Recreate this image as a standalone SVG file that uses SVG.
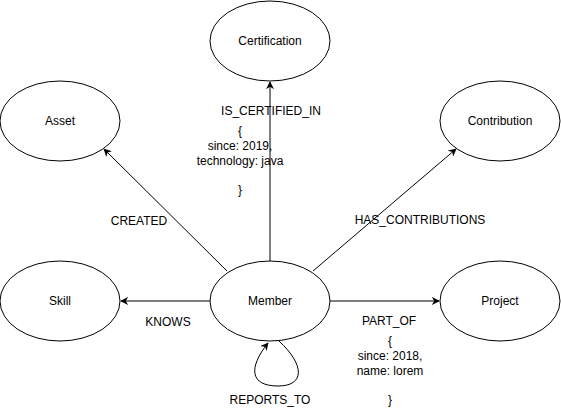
<svg xmlns="http://www.w3.org/2000/svg" width="561" height="411" viewBox="0 0 561 411">
<style>
.n{fill:#fff;stroke:#000;stroke-width:1}
.t{font-family:"Liberation Sans",Arial,sans-serif;font-size:12px;fill:#000;text-anchor:middle}
.e{fill:none;stroke:#000;stroke-width:1}
</style>
<defs>
<marker id="a" viewBox="0 0 10 10" refX="9" refY="5" markerWidth="8" markerHeight="8" markerUnits="userSpaceOnUse" orient="auto">
<path d="M0,0 L10,5 L0,10 L3,5 Z" fill="#000"/>
</marker>
</defs>
<rect width="561" height="411" fill="#fff"/>
<g id="connectors">
<path class="e" d="M270,261 L270,82" marker-end="url(#a)"/>
<path class="e" d="M227,271 L104,149" marker-end="url(#a)"/>
<path class="e" d="M313,271 L456,149" marker-end="url(#a)"/>
<path class="e" d="M210,301 L121,301" marker-end="url(#a)"/>
<path class="e" d="M330,301 L439,301" marker-end="url(#a)"/>
<path class="e" d="M279,341 C305,365 305,386 278,386 C250,386 248,368 268,343" marker-end="url(#a)"/>
</g>
<g id="certification"><ellipse class="n" cx="270" cy="41" rx="60" ry="40"/><text class="t" x="270" y="45">Certification</text></g>
<g id="asset"><ellipse class="n" cx="60" cy="121" rx="60" ry="40"/><text class="t" x="60" y="125">Asset</text></g>
<g id="contribution"><ellipse class="n" cx="500" cy="121" rx="60" ry="40"/><text class="t" x="500" y="125">Contribution</text></g>
<g id="skill"><ellipse class="n" cx="60" cy="301" rx="60" ry="40"/><text class="t" x="60" y="305">Skill</text></g>
<g id="member"><ellipse class="n" cx="270" cy="301" rx="60" ry="40"/><text class="t" x="270" y="305">Member</text></g>
<g id="project"><ellipse class="n" cx="500" cy="301" rx="60" ry="40"/><text class="t" x="500" y="305">Project</text></g>
<g id="labels">
<text class="t" x="271" y="115">IS_CERTIFIED_IN</text>
<text class="t" x="240" y="135">{</text>
<text class="t" x="240" y="150">since: 2019,</text>
<text class="t" x="240" y="165">technology: java</text>
<text class="t" x="240" y="194">}</text>
<text class="t" x="139" y="225">CREATED</text>
<text class="t" x="420" y="224">HAS_CONTRIBUTIONS</text>
<text class="t" x="168" y="326">KNOWS</text>
<text class="t" x="389" y="325">PART_OF</text>
<text class="t" x="390" y="345">{</text>
<text class="t" x="390" y="360">since: 2018,</text>
<text class="t" x="390" y="375">name: lorem</text>
<text class="t" x="390" y="404">}</text>
<text class="t" x="270" y="404">REPORTS_TO</text>
</g>
</svg>
